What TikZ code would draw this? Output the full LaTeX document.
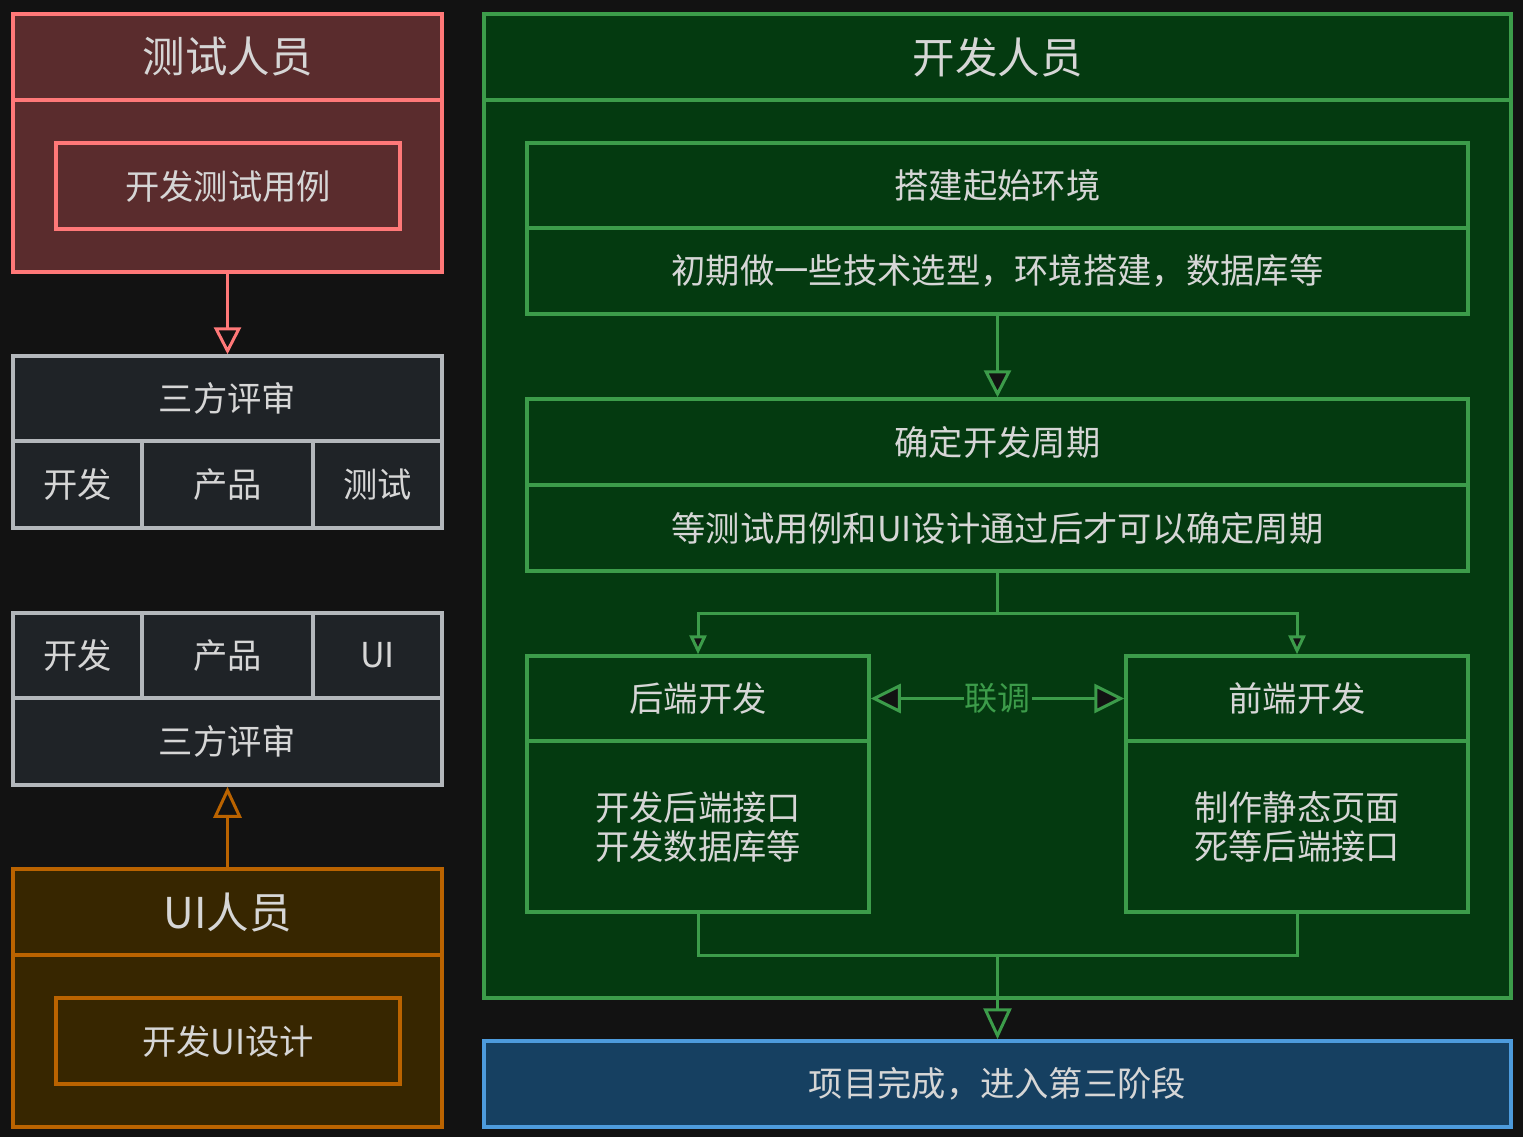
\documentclass[tikz,border=0pt]{standalone}
\usepackage{fontspec}
\setmainfont{Noto Sans CJK SC}
\usetikzlibrary{arrows.meta}
\definecolor{bg}{HTML}{121212}
\definecolor{txt}{HTML}{D6D6D6}
\definecolor{redS}{HTML}{FF7878}
\definecolor{redF}{HTML}{5A2C2D}
\definecolor{grayS}{HTML}{B3B7BB}
\definecolor{grayF}{HTML}{1F2327}
\definecolor{orgS}{HTML}{BA6300}
\definecolor{orgF}{HTML}{372600}
\definecolor{grnS}{HTML}{3C9C4A}
\definecolor{grnF}{HTML}{043A10}
\definecolor{bluS}{HTML}{4D9BDC}
\definecolor{bluF}{HTML}{164061}
\tikzset{
  cellbox/.style={draw, line width=3.5pt, inner sep=0pt, text=txt, align=center,
    font=\fontsize{34.3}{39}\selectfont},
  headbox/.style={cellbox, font=\fontsize{42.5}{48}\selectfont},
  redbox/.style={draw=redS, fill=redF},
  graybox/.style={draw=grayS, fill=grayF},
  orgbox/.style={draw=orgS, fill=orgF},
  grnbox/.style={draw=grnS, fill=grnF},
  blubox/.style={draw=bluS, fill=bluF},
  link/.style={line width=3pt},
  bigtip/.style={-{Triangle[length=31pt,width=28pt,fill=bg]}},
  midtip/.style={-{Triangle[length=27pt,width=27pt,fill=bg]}},
  smalltip/.style={-{Triangle[length=19pt,width=17pt,fill=bg]}},
}
\begin{document}
\begin{tikzpicture}[x=1pt,y=-1pt]
\useasboundingbox (0,0) rectangle (1523,1137);
\fill[bg] (0,0) rectangle (1523,1137);

% Tester group
\node[headbox, redbox, minimum width=429pt, minimum height=86pt] (tH) at (227.5,57) {测试人员};
\node[cellbox, redbox, minimum width=429pt, minimum height=172pt] (tB) at (227.5,186) {};
\node[cellbox, redbox, minimum width=344pt, minimum height=86pt] (tI) at (228,186) {开发测试用例};

% Review 1
\node[cellbox, graybox, minimum width=429pt, minimum height=85pt] (r1H) at (227.5,398.5) {三方评审};
\node[cellbox, graybox, minimum width=129pt, minimum height=87pt] (r1a) at (77.5,484.5) {开发};
\node[cellbox, graybox, minimum width=171pt, minimum height=87pt] (r1b) at (227.5,484.5) {产品};
\node[cellbox, graybox, minimum width=129pt, minimum height=87pt] (r1c) at (377.5,484.5) {测试};

% Review 2
\node[cellbox, graybox, minimum width=129pt, minimum height=85pt] (r2a) at (77.5,655.5) {开发};
\node[cellbox, graybox, minimum width=171pt, minimum height=85pt] (r2b) at (227.5,655.5) {产品};
\node[cellbox, graybox, minimum width=129pt, minimum height=85pt] (r2c) at (377.5,655.5) {UI};
\node[cellbox, graybox, minimum width=429pt, minimum height=87pt] (r2H) at (227.5,741.5) {三方评审};

% UI group
\node[headbox, orgbox, minimum width=429pt, minimum height=86pt] (uH) at (227.5,912) {UI人员};
\node[cellbox, orgbox, minimum width=429pt, minimum height=172pt] (uB) at (227.5,1041) {};
\node[cellbox, orgbox, minimum width=344pt, minimum height=86pt] (uI) at (228,1041) {开发UI设计};

% Developer group
\node[headbox, grnbox, minimum width=1027pt, minimum height=86pt] (dH) at (997.5,57) {开发人员};
\node[cellbox, grnbox, minimum width=1027pt, minimum height=898pt] (dB) at (997.5,549) {};
\node[cellbox, grnbox, minimum width=941pt, minimum height=85pt] (s1H) at (997.5,185.5) {搭建起始环境};
\node[cellbox, grnbox, minimum width=941pt, minimum height=86pt] (s1B) at (997.5,271) {初期做一些技术选型，环境搭建，数据库等};
\node[cellbox, grnbox, minimum width=941pt, minimum height=86pt] (s2H) at (997.5,442) {确定开发周期};
\node[cellbox, grnbox, minimum width=941pt, minimum height=86pt] (s2B) at (997.5,528) {等测试用例和UI设计通过后才可以确定周期};
\node[cellbox, grnbox, minimum width=342pt, minimum height=85pt] (beH) at (698,698.5) {后端开发};
\node[cellbox, grnbox, minimum width=342pt, minimum height=171pt] (beB) at (698,826.5) {开发后端接口\\开发数据库等};
\node[cellbox, grnbox, minimum width=342pt, minimum height=85pt] (feH) at (1297,698.5) {前端开发};
\node[cellbox, grnbox, minimum width=342pt, minimum height=171pt] (feB) at (1297,826.5) {制作静态页面\\死等后端接口};

% Final
\node[cellbox, blubox, minimum width=1027pt, minimum height=86pt] (fin) at (997.5,1084) {项目完成，进入第三阶段};

% Connectors
\draw[link, redS, midtip] (tB.south) -- (r1H.north);
\draw[link, orgS, bigtip] (uH.north) -- (r2H.south);
\draw[link, grnS, midtip] (s1B.south) -- (s2H.north);
\coordinate (split) at (997.5,613);
\draw[link, grnS] (s2B.south) -- (split);
\draw[link, grnS, smalltip] (split) -| (beH.north);
\draw[link, grnS, smalltip] (split) -| (feH.north);
\draw[link, grnS, {Triangle[length=30pt,width=29pt,fill=bg]}-{Triangle[length=30pt,width=29pt,fill=bg]}]
  (beH.east) -- node[fill=grnF, text=grnS, inner sep=1pt, font=\fontsize{33}{39}\selectfont] (lt) {联调} (feH.west);
\coordinate (merge) at (997.5,955);
\draw[link, grnS] (beB.south) |- (merge) -| (feB.south);
\draw[link, grnS, bigtip] (merge) -- (fin.north);
\end{tikzpicture}
\end{document}
